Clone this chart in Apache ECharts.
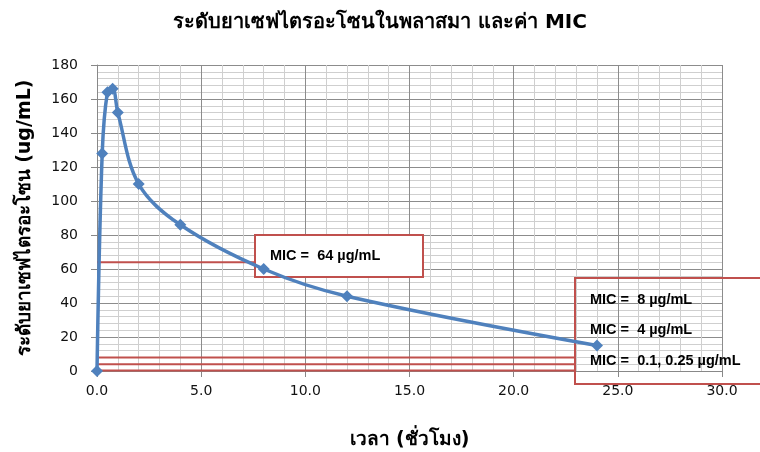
<!DOCTYPE html>
<html>
<head>
<meta charset="utf-8">
<script src="https://cdn.jsdelivr.net/npm/echarts@6/dist/echarts.min.js"></script>
<style>
  html, body { margin: 0; padding: 0; background: #fff; }
  #chart { width: 760px; height: 452px; }
</style>
</head>
<body>
<div id="chart"></div>
<script>
// Ceftriaxone plasma concentration over time (hours, µg/mL)
const timeHours = [0, 0.25, 0.5, 0.75, 1, 2, 4, 8, 12, 24];
const concentration = [0, 128, 164, 166, 152, 110, 86, 60, 44, 15];

// MIC reference levels (µg/mL) and where each guide line stops (hours)
const micLevels = [64, 8, 4, 0.25];
const micLineEnd = [7.6, 22.95, 22.95, 22.95];
const micLabels = ['MIC =  64 µg/mL', 'MIC =  8 µg/mL', 'MIC =  4 µg/mL', 'MIC =  0.1, 0.25 µg/mL'];

const titleText = 'ระดับยาเซฟไตรอะโซนในพลาสมา และค่า MIC';
const xAxisName = 'เวลา (ชั่วโมง)';
const yAxisName = 'ระดับยาเซฟไตรอะโซน (ug/mL)';

const BLUE = '#4F81BD';
const RED = '#C0504D';
const labelFont = '"DejaVu Sans", Tahoma, sans-serif';
const boxFont = '"Liberation Sans", Arial, sans-serif';

const chart = echarts.init(document.getElementById('chart'), null, { renderer: 'canvas' });

const micSeries = micLevels.map((v, i) => ({
  type: 'line',
  data: [[0, v], [micLineEnd[i], v]],
  symbol: 'none',
  lineStyle: { color: RED, width: 2 },
  z: 3,
  silent: true,
  clip: false
}));

const option = {
  animation: false,
  title: {
    text: titleText,
    left: 'center',
    top: 8,
    textStyle: { fontSize: 20, fontWeight: 'bold', color: '#000', fontFamily: labelFont }
  },
  grid: { left: 97, right: 38, top: 65, bottom: 81, containLabel: false, outerBoundsMode: 'none' },
  xAxis: {
    type: 'value',
    min: 0, max: 30, interval: 5,
    name: xAxisName,
    nameLocation: 'middle',
    nameGap: 60,
    nameTextStyle: { fontSize: 19, fontWeight: 'bold', color: '#000', fontFamily: labelFont },
    axisLine: { show: true, onZero: false, lineStyle: { color: '#888', width: 1 } },
    axisTick: { show: true, inside: false, length: 6, lineStyle: { color: '#888' } },
    axisLabel: {
      margin: 13, fontSize: 14, color: '#111', fontFamily: labelFont,
      formatter: v => v.toFixed(1)
    },
    splitLine: { show: true, lineStyle: { color: '#8c8c8c', width: 1 } },
    minorTick: { show: true, splitNumber: 5, length: 0 },
    minorSplitLine: { show: true, lineStyle: { color: '#cfcfcf', width: 1 } }
  },
  yAxis: {
    type: 'value',
    min: 0, max: 180, interval: 20,
    name: yAxisName,
    nameLocation: 'middle',
    nameGap: 62,
    nameRotate: 90,
    nameTextStyle: { fontSize: 19, fontWeight: 'bold', color: '#000', fontFamily: labelFont },
    axisLine: { show: true, lineStyle: { color: '#888', width: 1 } },
    axisTick: { show: true, inside: false, length: 6, lineStyle: { color: '#888' } },
    axisLabel: { margin: 19, fontSize: 14, color: '#111', fontFamily: labelFont },
    splitLine: { show: true, lineStyle: { color: '#8c8c8c', width: 1 } },
    minorTick: { show: true, splitNumber: 5, length: 0 },
    minorSplitLine: { show: true, lineStyle: { color: '#cfcfcf', width: 1 } }
  },
  series: [
    ...micSeries,
    {
      type: 'line',
      data: timeHours.map((t, i) => [t, concentration[i]]),
      smooth: 0.35,
      symbol: 'diamond',
      symbolSize: 12,
      showAllSymbol: true,
      clip: false,
      lineStyle: { color: BLUE, width: 3.5 },
      itemStyle: { color: BLUE },
      z: 6
    }
  ],
  graphic: [
    {
      type: 'rect', z: 4,
      shape: { x: 255, y: 235, width: 168, height: 42 },
      style: { fill: '#fff', stroke: RED, lineWidth: 2 }
    },
    {
      type: 'text', z: 7, left: 270, top: 248,
      style: { text: micLabels[0], font: 'bold 14.5px ' + boxFont, fill: '#000' }
    },
    {
      type: 'rect', z: 4,
      shape: { x: 575, y: 278, width: 200, height: 106 },
      style: { fill: 'transparent', stroke: RED, lineWidth: 2 }
    },
    {
      type: 'text', z: 7, left: 590, top: 292,
      style: { text: micLabels[1], font: 'bold 14.5px ' + boxFont, fill: '#000' }
    },
    {
      type: 'text', z: 7, left: 590, top: 322,
      style: { text: micLabels[2], font: 'bold 14.5px ' + boxFont, fill: '#000' }
    },
    {
      type: 'text', z: 7, left: 590, top: 353,
      style: { text: micLabels[3], font: 'bold 14.5px ' + boxFont, fill: '#000' }
    }
  ]
};

chart.setOption(option);
</script>
</body>
</html>
